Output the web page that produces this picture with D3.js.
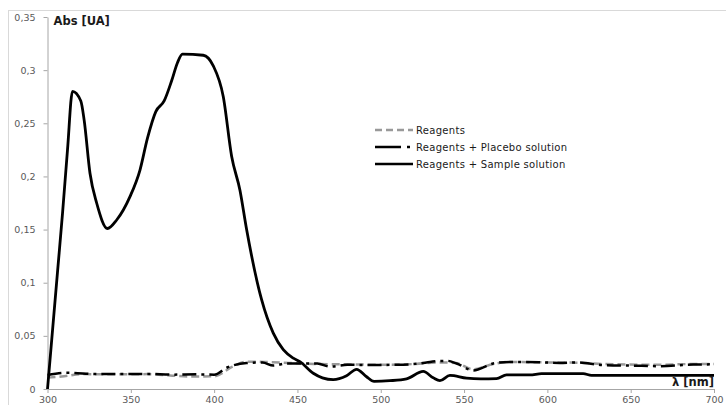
<!DOCTYPE html>
<html>
<head>
<meta charset="utf-8">
<script src="https://cdn.jsdelivr.net/npm/d3@7"></script>
<style>
  body { margin: 0; background: #fff; }
  text { font-family: "DejaVu Sans", sans-serif; }
</style>
</head>
<body>
<div id="chart"></div>
<script>
// data
var sampleNm  = [300, 303, 306, 309, 312, 315, 320, 322, 325.5, 329.5, 336, 341.5, 349.5, 355.5, 360, 365, 370, 374.5, 378, 381, 393.5, 399.5, 405.5, 410.5, 415.5, 419.5, 428.5, 435.5, 441.5, 447.5, 451.5, 459.5, 465, 471.5, 479.5, 485.5, 491.5, 496, 505.5, 515.5, 525.5, 531.5, 535.5, 541.5, 551.5, 560, 569.5, 575.5, 589.5, 596.5, 621.5, 626.5, 700];
var sampleAbs = [0, 0.055, 0.11, 0.165, 0.225, 0.28, 0.271, 0.253, 0.203, 0.175, 0.151, 0.159, 0.181, 0.206, 0.236, 0.261, 0.271, 0.29, 0.307, 0.315, 0.314, 0.304, 0.275, 0.219, 0.187, 0.15, 0.084, 0.0525, 0.037, 0.029, 0.0257, 0.0148, 0.0105, 0.0088, 0.0125, 0.0185, 0.0115, 0.0072, 0.0078, 0.0095, 0.0165, 0.0105, 0.0078, 0.0128, 0.0102, 0.0095, 0.0098, 0.0132, 0.0132, 0.0145, 0.0145, 0.0128, 0.0128];

var placeboNm  = [300, 312, 330, 360, 375, 390, 400, 407.5, 419.5, 429, 435.5, 443.5, 453, 462, 469.5, 480, 491.5, 510, 523.5, 529.5, 540, 545.5, 555.5, 567.5, 577.5, 595, 607.5, 617.5, 633.5, 650, 667.5, 687.5, 700];
var placeboAbs = [0.0132, 0.0152, 0.014, 0.0142, 0.0135, 0.0138, 0.0135, 0.02, 0.0245, 0.025, 0.022, 0.024, 0.024, 0.024, 0.021, 0.0228, 0.0226, 0.0228, 0.024, 0.0255, 0.0265, 0.024, 0.0175, 0.024, 0.0255, 0.0252, 0.0245, 0.025, 0.0225, 0.022, 0.0215, 0.023, 0.0232];

var reagentNm  = [300, 310, 320, 340, 360, 375, 385, 400, 411, 419.5, 430, 445, 460, 480, 500, 520, 535, 545, 555.5, 567.5, 577.5, 600, 617.5, 633.5, 667.5, 687.5, 700];
var reagentAbs = [0.0107, 0.012, 0.014, 0.0138, 0.014, 0.0125, 0.0118, 0.012, 0.021, 0.0257, 0.0255, 0.0245, 0.0235, 0.0232, 0.0228, 0.0235, 0.025, 0.0245, 0.0185, 0.0235, 0.0255, 0.025, 0.0248, 0.0235, 0.0228, 0.0235, 0.0235];

var xTicks = [300, 350, 400, 450, 500, 550, 600, 650, 700];
var yTicks = [0, 0.05, 0.1, 0.15, 0.2, 0.25, 0.3, 0.35];
var yTickLabels = ["0", "0,05", "0,1", "0,15", "0,2", "0,25", "0,3", "0,35"];
var legendNames = ["Reagents", "Reagents + Placebo solution", "Reagents + Sample solution"];

var svgW = 726, svgH = 405;
var margin = {top: 17, right: 10, bottom: 16, left: 47.5};
var width = 714 - margin.left;
var height = 389 - margin.top;

var svg = d3.select("#chart").append("svg")
  .attr("width", svgW)
  .attr("height", svgH);

// chart area border
svg.append("rect")
  .attr("x", 8.5).attr("y", 10.5)
  .attr("width", 730).attr("height", 400)
  .attr("fill", "none")
  .attr("stroke", "#d9d9d9");

var chartGroup = svg.append("g")
  .attr("transform", `translate(${margin.left}, ${margin.top})`);

var xScale = d3.scaleLinear().domain([300, 700]).range([0, width]);
var yScale = d3.scaleLinear().domain([0, 0.35]).range([height, 0]);

var bottomAxis = d3.axisBottom(xScale).tickValues(xTicks).tickSize(4).tickSizeOuter(0).tickPadding(3);
var leftAxis = d3.axisLeft(yScale).tickValues(yTicks).tickSize(4).tickSizeOuter(0).tickPadding(8)
  .tickFormat((d, i) => yTickLabels[i]);

var gx = chartGroup.append("g")
  .attr("transform", `translate(0, ${height})`)
  .call(bottomAxis);
var gy = chartGroup.append("g").call(leftAxis);

[gx, gy].forEach(function(g) {
  g.select(".domain").attr("stroke", "#a6a6a6");
  g.selectAll(".tick line").attr("stroke", "#a6a6a6");
  g.selectAll(".tick text")
    .attr("fill", "#595959")
    .style("font-size", "9.5px")
    .style("font-family", "DejaVu Sans, sans-serif");
});

var line = d3.line()
  .x(d => xScale(d[0]))
  .y(d => yScale(d[1]))
  .curve(d3.curveMonotoneX);

chartGroup.append("path")
  .datum(reagentNm.map((d, i) => [d, reagentAbs[i]]))
  .attr("d", line)
  .attr("fill", "none")
  .attr("stroke", "#999999")
  .attr("stroke-width", 2.5)
  .attr("stroke-dasharray", "8,4");

chartGroup.append("path")
  .datum(placeboNm.map((d, i) => [d, placeboAbs[i]]))
  .attr("d", line)
  .attr("fill", "none")
  .attr("stroke", "#000")
  .attr("stroke-width", 2.5)
  .attr("stroke-dasharray", "14,5,3,5");

chartGroup.append("path")
  .datum(sampleNm.map((d, i) => [d, sampleAbs[i]]))
  .attr("d", line)
  .attr("fill", "none")
  .attr("stroke", "#000")
  .attr("stroke-width", 2.8)
  .attr("stroke-linejoin", "round");

// axis titles
chartGroup.append("text")
  .attr("x", 6)
  .attr("y", 8)
  .attr("font-weight", "bold")
  .style("font-size", "11.5px")
  .attr("fill", "#1a1a1a")
  .text("Abs [UA]");

chartGroup.append("text")
  .attr("x", width)
  .attr("y", height - 3)
  .attr("text-anchor", "end")
  .attr("font-weight", "bold")
  .style("font-size", "11.5px")
  .attr("fill", "#1a1a1a")
  .text("λ [nm]");

// legend
var legendStyles = [
  {stroke: "#999999", dash: "7,4", w: 2.5},
  {stroke: "#000", dash: "26,6,3,20", w: 2.5},
  {stroke: "#000", dash: null, w: 2.5}
];
var legend = svg.append("g").attr("transform", "translate(375, 130)");
legendNames.forEach(function(name, i) {
  var row = legend.append("g").attr("transform", `translate(0, ${i * 17})`);
  row.append("line")
    .attr("x1", 0).attr("x2", 38)
    .attr("y1", 0).attr("y2", 0)
    .attr("stroke", legendStyles[i].stroke)
    .attr("stroke-width", legendStyles[i].w)
    .attr("stroke-dasharray", legendStyles[i].dash);
  row.append("text")
    .attr("x", 41)
    .attr("y", 3.5)
    .style("font-size", "10px")
    .style("letter-spacing", "0.3px")
    .attr("fill", "#1a1a1a")
    .text(name);
});
</script>
</body>
</html>
